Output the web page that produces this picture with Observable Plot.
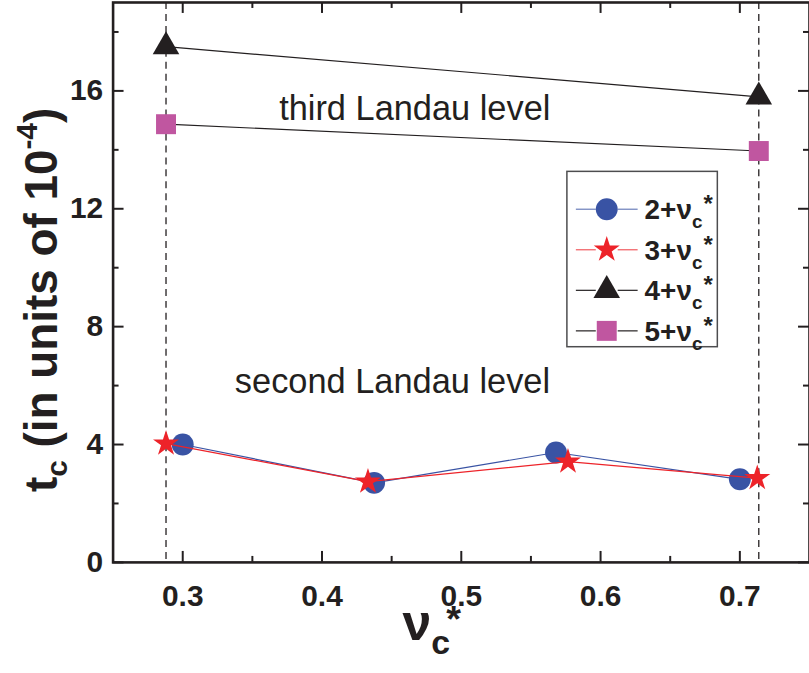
<!DOCTYPE html>
<html>
<head>
<meta charset="utf-8">
<script src="https://cdn.jsdelivr.net/npm/d3@7"></script>
<script src="https://cdn.jsdelivr.net/npm/@observablehq/plot@0.6"></script>
<style>
  html, body { margin: 0; padding: 0; background: #fff; overflow: hidden; }
  #chart { width: 809px; height: 673px; overflow: hidden; }
</style>
</head>
<body>
<div id="chart"></div>
<script>
// Critical t_c (in units of 1e-4) against the filling factor ν_c*
const nuCircle = [0.300, 0.4374, 0.568, 0.700];   // 2+ν_c*
const tcCircle = [4.00, 2.70, 3.73, 2.82];
const nuStar = [0.288, 0.433, 0.5766, 0.7125];    // 3+ν_c*
const tcStar = [4.03, 2.74, 3.42, 2.86];
const nuTriangle = [0.288, 0.7136];               // 4+ν_c*
const tcTriangle = [17.5, 15.8];
const nuSquare = [0.288, 0.7136];                 // 5+ν_c*
const tcSquare = [14.87, 13.96];
const guideNu = [0.288, 0.7136];                  // dashed reference fillings

const seriesPrefix = ["2+", "3+", "4+", "5+"];
const xTicks = [0.3, 0.4, 0.5, 0.6, 0.7];
const xMinorTicks = [0.35, 0.45, 0.55, 0.65];
const yTicks = [0, 4, 8, 12, 16];
const yMinorTicks = [2, 6, 10, 14, 18];
const levelNotes = [
  {text: "third Landau level", nu: 0.4666, tc: 15.38},
  {text: "second Landau level", nu: 0.4506, tc: 6.12}
];

const ink = "#231f20";
const blue = "#3953a4";
const red = "#ed2329";
const magenta = "#c056a0";
const font = "'Liberation Sans', Arial, Helvetica, sans-serif";

const rows = (xs, ys) => xs.map((nu, i) => ({nu, tc: ys[i]}));
const circles = rows(nuCircle, tcCircle);
const stars = rows(nuStar, tcStar);
const triangles = rows(nuTriangle, tcTriangle);
const squares = rows(nuSquare, tcSquare);

const W = 812, H = 673;
const mL = 113, mR = 0, mT = 2, mB = 109;
const innerH = H - mT - mB;
const innerW = W - mL - mR;
const major = 11, minor = 6;

const series = [
  {name: seriesPrefix[0], color: blue, symbol: "circle", r: 11, line: blue},
  {name: seriesPrefix[1], color: red, symbol: "star", r: 8.2, line: red},
  {name: seriesPrefix[2], color: ink, symbol: "triangle", r: 9.9, line: ink},
  {name: seriesPrefix[3], color: magenta, symbol: "square", r: 11.3, line: ink}
];

const tickStyle = {stroke: ink, strokeWidth: 2};

const plot = Plot.plot({
  width: W,
  height: H,
  marginLeft: mL,
  marginRight: mR,
  marginTop: mT,
  marginBottom: mB,
  style: {fontFamily: font, background: "#fff", color: ink},
  x: {domain: [0.25, 0.75]},
  y: {domain: [0, 19]},
  marks: [
    Plot.ruleX(guideNu, {x: d => d, stroke: ink, strokeWidth: 1.3, strokeDasharray: "7,5"}),
    // inward ticks on all four sides
    Plot.tickX(xTicks, {x: d => d, insetTop: innerH - major, ...tickStyle}),
    Plot.tickX(xMinorTicks, {x: d => d, insetTop: innerH - minor, ...tickStyle}),
    Plot.tickX(xTicks, {x: d => d, insetBottom: innerH - major, ...tickStyle}),
    Plot.tickX(xMinorTicks, {x: d => d, insetBottom: innerH - minor, ...tickStyle}),
    Plot.tickY(yTicks, {y: d => d, insetRight: innerW - major, ...tickStyle}),
    Plot.tickY(yMinorTicks, {y: d => d, insetRight: innerW - minor, ...tickStyle}),
    Plot.tickY(yTicks, {y: d => d, insetLeft: innerW - major, ...tickStyle}),
    Plot.tickY(yMinorTicks, {y: d => d, insetLeft: innerW - minor, ...tickStyle}),
    Plot.axisX(xTicks, {tickSize: 0, tickPadding: 22, tickFormat: d3.format(".1f"), label: null,
      fontSize: 30, fontWeight: "bold", fill: ink}),
    Plot.axisY(yTicks, {tickSize: 0, tickPadding: 10, tickFormat: d => String(d), label: null,
      fontSize: 30, fontWeight: "bold", fill: ink}),
    Plot.frame({stroke: ink, strokeWidth: 2.6}),
    // series
    Plot.line(triangles, {x: "nu", y: "tc", stroke: ink, strokeWidth: 1.2}),
    Plot.line(squares, {x: "nu", y: "tc", stroke: ink, strokeWidth: 1.2}),
    Plot.line(circles, {x: "nu", y: "tc", stroke: blue, strokeWidth: 1.2}),
    Plot.dot(circles, {x: "nu", y: "tc", symbol: "circle", r: 11, fill: blue, stroke: "none"}),
    Plot.line(stars, {x: "nu", y: "tc", stroke: red, strokeWidth: 1.2}),
    Plot.dot(stars, {x: "nu", y: "tc", symbol: "star", r: 8.2, fill: red, stroke: "none"}),
    Plot.dot(triangles, {x: "nu", y: "tc", symbol: "triangle", r: 9.9, fill: ink, stroke: "none"}),
    Plot.dot(squares, {x: "nu", y: "tc", symbol: "square", r: 11.3, fill: magenta, stroke: "none"}),
    Plot.text(levelNotes, {x: "nu", y: "tc", text: "text", fontSize: 34.5,
      textAnchor: "middle", lineAnchor: "middle", fill: ink})
  ]
});

const svg = d3.select(plot).style("overflow", "hidden");

// vertical axis title: t_c (in units of 10^-4)
const yTitle = svg.append("text")
  .attr("transform", "translate(57,301) rotate(-90)")
  .attr("text-anchor", "middle")
  .attr("font-family", font).attr("font-weight", "bold")
  .attr("font-size", 46).attr("fill", ink);
yTitle.append("tspan").text("t");
yTitle.append("tspan").attr("font-size", 30).attr("dy", 10).text("c");
yTitle.append("tspan").attr("dy", -10).text(" (in units of 10");
yTitle.append("tspan").attr("font-size", 30).attr("dy", -20).text("-4");
yTitle.append("tspan").attr("dy", 20).text(")");

// horizontal axis title: ν_c*
const xTitle = svg.append("text")
  .attr("x", 404).attr("y", 642)
  .attr("text-anchor", "start")
  .attr("font-family", font).attr("font-weight", "bold")
  .attr("font-size", 52).attr("fill", ink);
xTitle.append("tspan").text("ν");
xTitle.append("tspan").attr("font-size", 34).attr("dy", 14).text("c");
xTitle.append("tspan").attr("font-size", 38).attr("dx", -4).attr("dy", -22).text("*");

// legend
const lg = svg.append("g");
lg.append("rect").attr("x", 569).attr("y", 172).attr("width", 151).attr("height", 176)
  .attr("fill", "#fff").attr("stroke", "#4d4d4f").attr("stroke-width", 1.5);
const symbolTypes = {circle: d3.symbolCircle, star: d3.symbolStar, triangle: d3.symbolTriangle, square: d3.symbolSquare};
series.forEach((s, i) => {
  const cy = 210 + i * 40.7;
  for (const [x1, x2] of [[578, 598], [620, 640]]) {
    lg.append("line").attr("x1", x1).attr("x2", x2).attr("y1", cy).attr("y2", cy)
      .attr("stroke", s.line).attr("stroke-width", 1.2).attr("opacity", s.line === ink ? 1 : 0.75);
  }
  lg.append("path")
    .attr("transform", `translate(609,${cy})`)
    .attr("d", d3.symbol(symbolTypes[s.symbol], Math.PI * s.r * s.r)())
    .attr("fill", s.color);
  const t = lg.append("text").attr("x", 647).attr("y", cy + 10)
    .attr("text-anchor", "start")
    .attr("font-family", font).attr("font-weight", "bold").attr("font-size", 28).attr("fill", ink);
  t.append("tspan").text(s.name + "ν");
  t.append("tspan").attr("font-size", 19).attr("dy", 9).text("c");
  t.append("tspan").attr("font-size", 24).attr("dx", 1).attr("dy", -16).text("*");
});

document.getElementById("chart").appendChild(plot);
</script>
</body>
</html>
